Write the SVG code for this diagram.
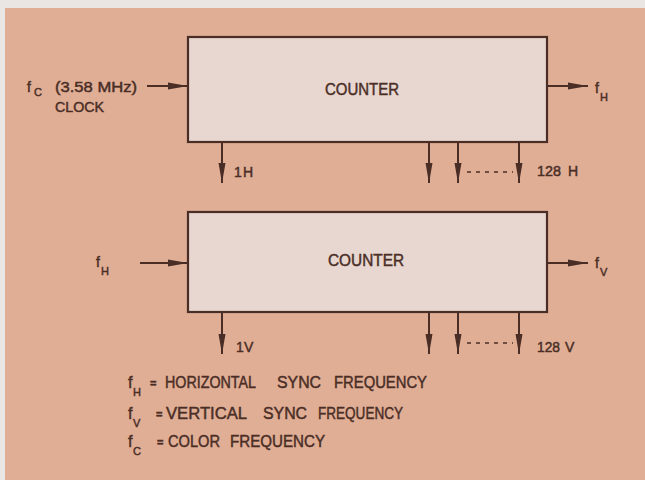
<svg xmlns="http://www.w3.org/2000/svg" width="645" height="480" viewBox="0 0 645 480">
  <defs>
    <marker id="ah" markerUnits="userSpaceOnUse" markerWidth="20" markerHeight="8" refX="20" refY="4" orient="auto">
      <path d="M0,0.5 L20,4 L0,7.5 Z" fill="#4a2e26"/>
    </marker>
    <style>
      .box { fill: #e8d7d0; stroke: #4a2e26; stroke-width: 2.2; }
      .wire { stroke: #4a2e26; stroke-width: 2; fill: none; }
      .dash { stroke: #4a2e26; stroke-width: 1.6; stroke-dasharray: 4 5; fill: none; }
      .t { font-family: "Liberation Sans", Arial, sans-serif; fill: #4a2e26; stroke: #4a2e26; stroke-width: 0.45; }
      .lbl { font-size: 14px; }
      .big { font-size: 16px; }
      .sub { font-size: 11px; }
      .eq { font-size: 11px; font-weight: bold; }
    </style>
  </defs>
  <rect x="0" y="0" width="645" height="480" fill="#e9e6e3"/>
  <rect x="5" y="8" width="640" height="472" fill="#e0ad95"/>

  <g id="counter1">
    <rect class="box" x="188" y="37" width="359" height="105"/>
    <text class="t big" x="362" y="95" text-anchor="middle" textLength="74" lengthAdjust="spacingAndGlyphs">COUNTER</text>
  </g>
  <g id="counter2">
    <rect class="box" x="188" y="212" width="359" height="100"/>
    <text class="t big" x="366" y="266" text-anchor="middle" textLength="76" lengthAdjust="spacingAndGlyphs">COUNTER</text>
  </g>

  <g id="clock-input">
    <text class="t lbl" x="27" y="92">f<tspan class="sub" x="34" y="96">C</tspan></text>
    <text class="t lbl" x="55" y="92" textLength="82" lengthAdjust="spacingAndGlyphs">(3.58 MHz)</text>
    <text class="t lbl" x="55" y="112" textLength="49" lengthAdjust="spacingAndGlyphs">CLOCK</text>
  </g>
  <g id="fh-out">
    <text class="t lbl" x="595" y="93">f<tspan class="sub" x="600" y="101">H</tspan></text>
  </g>
  <g id="fh-in">
    <text class="t lbl" x="96" y="267">f<tspan class="sub" x="101" y="275">H</tspan></text>
  </g>
  <g id="fv-out">
    <text class="t lbl" x="595" y="268">f<tspan class="sub" x="600" y="276">V</tspan></text>
  </g>

  <g id="h-outputs">
    <text class="t lbl" x="234" y="177">1<tspan x="243">H</tspan></text>
    <text class="t lbl" x="537" y="176" textLength="24" lengthAdjust="spacingAndGlyphs">128</text>
    <text class="t lbl" x="568" y="176">H</text>
  </g>
  <g id="v-outputs">
    <text class="t lbl" x="236" y="352">1<tspan x="244">V</tspan></text>
    <text class="t lbl" x="537" y="352" textLength="23" lengthAdjust="spacingAndGlyphs">128</text>
    <text class="t lbl" x="565" y="352">V</text>
  </g>

  <g id="connectors">
    <line class="wire" x1="147" y1="86" x2="188" y2="86" marker-end="url(#ah)"/>
    <line class="wire" x1="547" y1="86" x2="588" y2="86" marker-end="url(#ah)"/>
    <line class="wire" x1="140" y1="263" x2="188" y2="263" marker-end="url(#ah)"/>
    <line class="wire" x1="547" y1="263" x2="588" y2="263" marker-end="url(#ah)"/>
    <line class="wire" x1="222" y1="142" x2="222" y2="183" marker-end="url(#ah)"/>
    <line class="wire" x1="429" y1="142" x2="429" y2="183" marker-end="url(#ah)"/>
    <line class="wire" x1="458" y1="142" x2="458" y2="183" marker-end="url(#ah)"/>
    <line class="wire" x1="519" y1="142" x2="519" y2="183" marker-end="url(#ah)"/>
    <line class="dash" x1="467" y1="172" x2="513" y2="172"/>
    <line class="wire" x1="222" y1="312" x2="222" y2="354" marker-end="url(#ah)"/>
    <line class="wire" x1="429" y1="312" x2="429" y2="354" marker-end="url(#ah)"/>
    <line class="wire" x1="458" y1="312" x2="458" y2="354" marker-end="url(#ah)"/>
    <line class="wire" x1="519" y1="312" x2="519" y2="354" marker-end="url(#ah)"/>
    <line class="dash" x1="467" y1="343" x2="513" y2="343"/>
  </g>

  <g id="legend">
    <text class="t big" x="128" y="388">f<tspan class="sub" x="133" y="396">H</tspan></text>
    <text class="t eq" x="150" y="387">=</text>
    <text class="t big" x="165" y="388" textLength="91" lengthAdjust="spacingAndGlyphs">HORIZONTAL</text>
    <text class="t big" x="277" y="388" textLength="44" lengthAdjust="spacingAndGlyphs">SYNC</text>
    <text class="t big" x="334" y="388" textLength="93" lengthAdjust="spacingAndGlyphs">FREQUENCY</text>
    <text class="t big" x="128" y="419">f<tspan class="sub" x="133" y="427">V</tspan></text>
    <text class="t eq" x="156" y="418">=</text>
    <text class="t big" x="166" y="419" textLength="81" lengthAdjust="spacingAndGlyphs">VERTICAL</text>
    <text class="t big" x="263" y="419" textLength="44" lengthAdjust="spacingAndGlyphs">SYNC</text>
    <text class="t big" x="318" y="419" textLength="85" lengthAdjust="spacingAndGlyphs">FREQUENCY</text>
    <text class="t big" x="128" y="447">f<tspan class="sub" x="133" y="455">C</tspan></text>
    <text class="t eq" x="157" y="446">=</text>
    <text class="t big" x="168" y="447" textLength="52" lengthAdjust="spacingAndGlyphs">COLOR</text>
    <text class="t big" x="230" y="447" textLength="95" lengthAdjust="spacingAndGlyphs">FREQUENCY</text>
  </g>
</svg>
